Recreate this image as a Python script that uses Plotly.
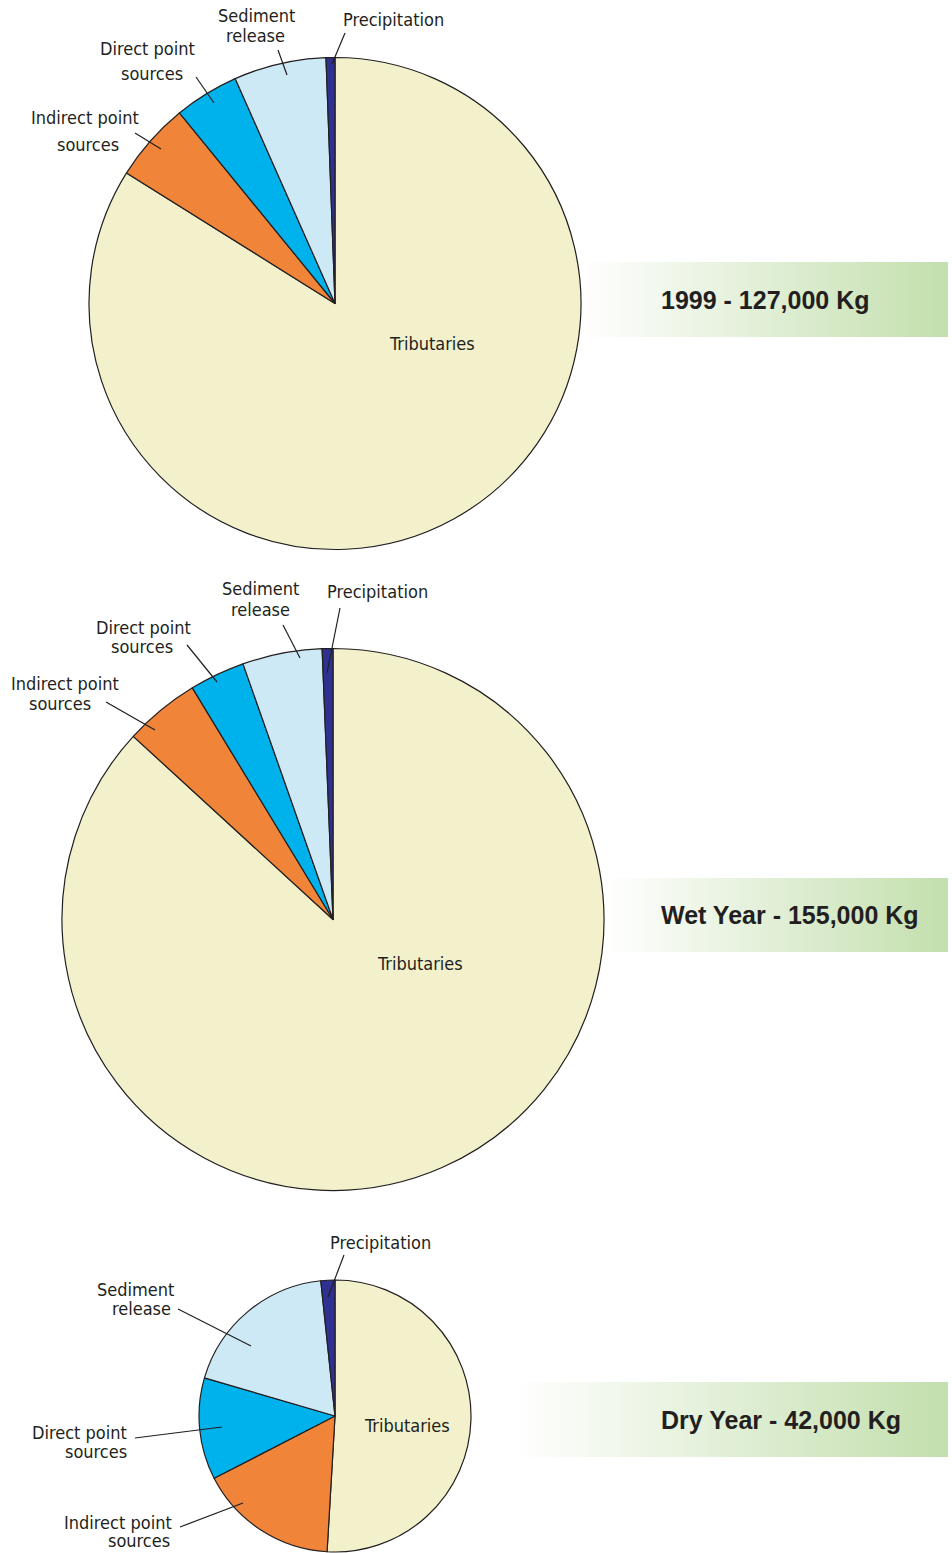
import plotly.graph_objects as go

W, H = 952, 1553

# Phosphorus load by source (kg)
sources = ["Tributaries", "Indirect point sources", "Direct point sources",
           "Sediment release", "Precipitation"]
load_1999 = [106560, 6600, 5400, 7700, 740]
load_wet = [134560, 6980, 5110, 7360, 990]
load_dry = [21390, 6930, 5080, 7900, 700]
titles = ["1999 - 127,000 Kg", "Wet Year - 155,000 Kg", "Dry Year - 42,000 Kg"]

colors = ["#F2F1CB", "#F0853A", "#00B2EC", "#CCE9F5", "#2E3192"]
INK = "#231F20"
FONT = "Liberation Sans Narrow, DejaVu Sans Condensed, Arial Narrow, sans-serif"
TITLE_FONT = "Liberation Sans, Arial, sans-serif"

# pie placement in pixels: centre x, centre y, radius
pies = [(335, 303.5, 246), (333, 919.5, 271), (335, 1416, 136)]
series = [load_1999, load_wet, load_dry]

fig = go.Figure()

# gradient title banners (x0, x1, y0, y1 in px)
banners = [(580, 948, 262, 337), (605, 948, 878, 952), (513, 948, 1382, 1457)]
for (x0, x1, y0, y1) in banners:
    fig.add_trace(go.Scatter(
        x=[x0, x1, x1, x0, x0], y=[y0, y0, y1, y1, y0],
        mode="lines", line=dict(width=0), fill="toself",
        fillgradient=dict(type="horizontal",
                          colorscale=[[0, "#FFFFFF"], [1, "#C3DFAD"]]),
        hoverinfo="skip", showlegend=False))

for (cx, cy, r), vals in zip(pies, series):
    fig.add_trace(go.Pie(
        labels=sources, values=vals, sort=False, direction="clockwise",
        rotation=0, textinfo="none", showlegend=False,
        marker=dict(colors=colors, line=dict(color=INK, width=1.2)),
        domain=dict(x=[(cx - r) / W, (cx + r) / W],
                    y=[1 - (cy + r) / H, 1 - (cy - r) / H])))

# slice labels: (text, x, y)
labels = [
    # 1999
    ("Sediment", 256, 15), ("release", 255, 35),
    ("Precipitation", 393, 19),
    ("Direct point", 147, 48), ("sources", 152, 73),
    ("Indirect point", 85, 117), ("sources", 88, 144),
    ("Tributaries", 432, 343),
    # wet year
    ("Sediment", 260, 588), ("release", 260, 609),
    ("Precipitation", 377, 591),
    ("Direct point", 143, 627), ("sources", 142, 646),
    ("Indirect point", 65, 683), ("sources", 60, 703),
    ("Tributaries", 420, 963),
    # dry year
    ("Precipitation", 380, 1242),
    ("Sediment", 135, 1289), ("release", 141, 1308),
    ("Direct point", 79, 1432), ("sources", 96, 1451),
    ("Indirect point", 118, 1522), ("sources", 139, 1540),
    ("Tributaries", 407, 1425),
]
for text, x, y in labels:
    fig.add_annotation(x=x, y=y, xref="x", yref="y", text=text, showarrow=False,
                       xanchor="center", yanchor="middle",
                       font=dict(family=FONT, size=18, color=INK))

# leader lines
leaders = [
    (345, 33, 332, 64), (278, 50, 287, 75), (196, 77, 214, 103), (135, 133, 161, 149),
    (340, 608, 327, 673), (283, 625, 300, 658), (187, 645, 217, 682), (106, 702, 155, 730),
    (344, 1255, 328, 1297), (178, 1309, 251, 1346), (135, 1438, 222, 1427),
    (180, 1527, 243, 1503),
]
for x0, y0, x1, y1 in leaders:
    fig.add_shape(type="line", xref="x", yref="y", x0=x0, y0=y0, x1=x1, y1=y1,
                  line=dict(color=INK, width=1.2), layer="above")

# banner titles
for title, y in zip(titles, [300, 915, 1420]):
    fig.add_annotation(x=659, y=y, xref="x", yref="y", text="<b>%s</b>" % title,
                       showarrow=False, xanchor="left", yanchor="middle",
                       font=dict(family=TITLE_FONT, size=25, color=INK))

fig.update_xaxes(range=[0, W], visible=False, fixedrange=True)
fig.update_yaxes(range=[H, 0], visible=False, fixedrange=True)
fig.update_layout(width=W, height=H, margin=dict(l=0, r=0, t=0, b=0),
                  paper_bgcolor="white", plot_bgcolor="white")

fig.write_html("out.html")
